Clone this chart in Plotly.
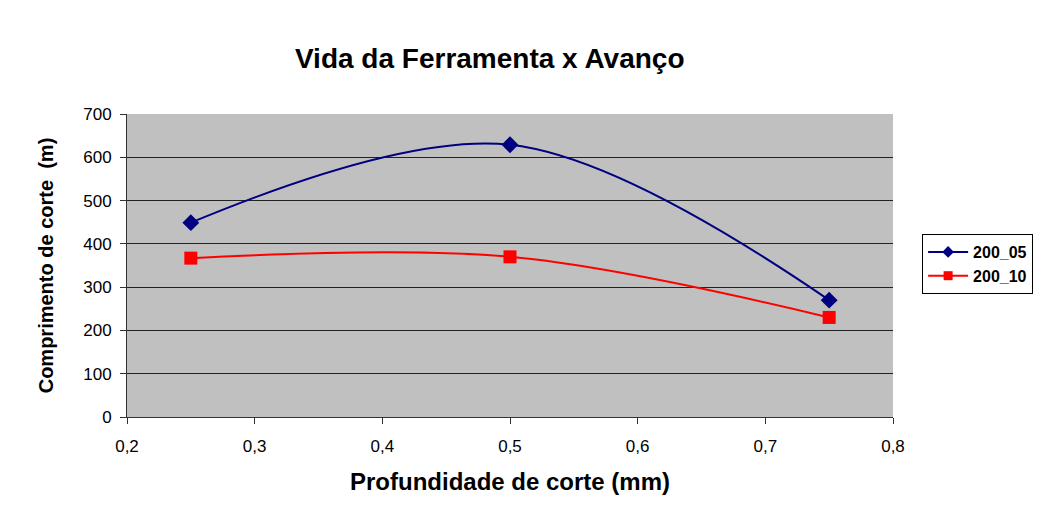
import plotly.graph_objects as go

depth = [0.25, 0.5, 0.75]
s200_05 = [449, 629, 270]
s200_10 = [367, 370, 230]
series_names = ["200_05", "200_10"]
colors = ["#000080", "#FF0000"]
symbols = ["diamond", "square"]

fig = go.Figure()
for name, vals, col, sym in zip(series_names, [s200_05, s200_10], colors, symbols):
    fig.add_trace(go.Scatter(
        x=depth, y=vals, name=name, mode="lines+markers", showlegend=False,
        line=dict(color=col, width=2, shape="spline", smoothing=1),
        marker=dict(symbol=sym, size=13, color=col),
    ))
# legend entries with small markers like the reference
for name, col, sym in zip(series_names, colors, symbols):
    fig.add_trace(go.Scatter(
        x=[None], y=[None], name=name, mode="lines+markers",
        line=dict(color=col, width=2),
        marker=dict(symbol=sym, size=9, color=col),
    ))

font_family = "Arial, Liberation Sans, sans-serif"
fig.update_layout(
    width=1045, height=509,
    margin=dict(l=119, r=160, t=106, b=100),
    paper_bgcolor="white", plot_bgcolor="#C0C0C0",
    separators=",.",
    font=dict(family=font_family, color="black"),
    title=dict(text="<b>Vida da Ferramenta x Avanço</b>", x=0.461, xanchor="center",
               y=0.902, yanchor="middle", font=dict(size=28, family=font_family)),
    xaxis=dict(range=[0.2, 0.8], dtick=0.1, tick0=0.2, tickformat=".1f",
               showgrid=False, zeroline=False, showline=True, linecolor="#333333", linewidth=1,
               ticks="outside", ticklen=6, tickcolor="#333333", ticklabelstandoff=8,
               tickfont=dict(size=17, family=font_family),
               title=dict(text="<b>Profundidade de corte (mm)</b>", font=dict(size=24), standoff=17)),
    yaxis=dict(range=[0, 700], dtick=100, showgrid=True, gridcolor="#222222", gridwidth=1,
               zeroline=False, showline=True, linecolor="#333333", linewidth=1,
               ticks="outside", ticklen=6, tickcolor="#333333", ticklabelstandoff=5,
               tickfont=dict(size=17, family=font_family),
               title=dict(text="<b>Comprimento de corte  (m)</b>", font=dict(size=20), standoff=24)),
    legend=dict(x=1.038, y=0.604, xanchor="left", yanchor="top",
                bgcolor="white", bordercolor="black", borderwidth=1, itemwidth=40,
                font=dict(size=16, family=font_family, weight="bold"), tracegroupgap=2),
    showlegend=True,
)

fig.write_html("out.html")
